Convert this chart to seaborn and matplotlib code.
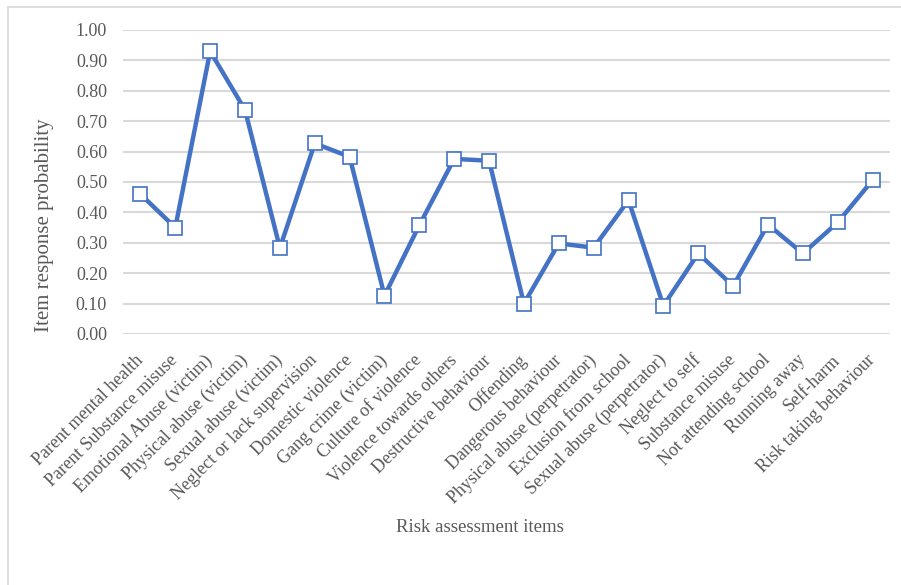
import matplotlib
matplotlib.use("Agg")
import matplotlib.pyplot as plt
from matplotlib.lines import Line2D
import seaborn as sns
import pandas as pd

items = [
    "Parent mental health", "Parent Substance misuse", "Emotional Abuse (victim)",
    "Physical abuse (victim)", "Sexual abuse (victim)", "Neglect or lack supervision",
    "Domestic violence", "Gang crime (victim)", "Culture of violence",
    "Violence towards others", "Destructive behaviour", "Offending",
    "Dangerous behaviour", "Physical abuse (perpetrator)", "Exclusion from school",
    "Sexual abuse (perpetrator)", "Neglect to self", "Substance misuse",
    "Not attending school", "Running away", "Self-harm", "Risk taking behaviour",
]
probability = [
    0.46, 0.35, 0.93, 0.737, 0.283, 0.627,
    0.583, 0.126, 0.358, 0.576, 0.570, 0.100,
    0.298, 0.284, 0.440, 0.093, 0.265, 0.158,
    0.360, 0.265, 0.367, 0.506,
]
y_ticks = [0.0, 0.1, 0.2, 0.3, 0.4, 0.5, 0.6, 0.7, 0.8, 0.9, 1.0]

df = pd.DataFrame({"item": items, "prob": probability, "pos": range(len(items))})

sns.set_theme(style="white")
plt.rcParams["font.family"] = ["Liberation Serif", "DejaVu Serif"]
text_col = "#595959"
blue = "#4472C4"

W, H = 901, 585
fig = plt.figure(figsize=(W / 100, H / 100), dpi=100)
ax = fig.add_axes([123 / W, 1 - 334 / H, (890 - 123) / W, (334 - 30) / H])

sns.lineplot(data=df, x="pos", y="prob", ax=ax, color=blue, linewidth=3.2,
             marker="s", markersize=10, markerfacecolor="white",
             markeredgecolor=blue, markeredgewidth=1.2, zorder=3)

ax.set_xlim(-0.5, len(items) - 0.5)
ax.set_ylim(0, 1)
ax.set_yticks(y_ticks)
ax.set_yticklabels([f"{v:.2f}" for v in y_ticks])
ax.set_xticks(range(len(items)))
ax.set_xticklabels(items, rotation=45, ha="right", va="center",
                   rotation_mode="anchor")

ax.yaxis.grid(True, color="#D9D9D9", linewidth=1.5)
ax.xaxis.grid(False)
for s in ax.spines.values():
    s.set_visible(False)
ax.tick_params(axis="y", length=0, pad=11.5, labelsize=13, labelcolor=text_col)
ax.tick_params(axis="x", length=0, pad=17, labelsize=13, labelcolor=text_col)
ax.set_xlabel("")
ax.set_ylabel("")

fig.text(45 / W, 1 - 225 / H, "Item response probability", rotation=90,
         ha="center", va="center", fontsize=15, color=text_col)
fig.text(480 / W, 1 - 527 / H, "Risk assessment items",
         ha="center", va="center", fontsize=13.5, color=text_col)

# chart area frame (top and left edges)
fig.add_artist(Line2D([8 / W, 1], [1 - 6.5 / H, 1 - 6.5 / H],
                      transform=fig.transFigure, color="#D9D9D9", linewidth=1.2))
fig.add_artist(Line2D([8 / W, 8 / W], [0, 1 - 6.5 / H],
                      transform=fig.transFigure, color="#D9D9D9", linewidth=1.2))

fig.savefig("out.png", dpi=100)
